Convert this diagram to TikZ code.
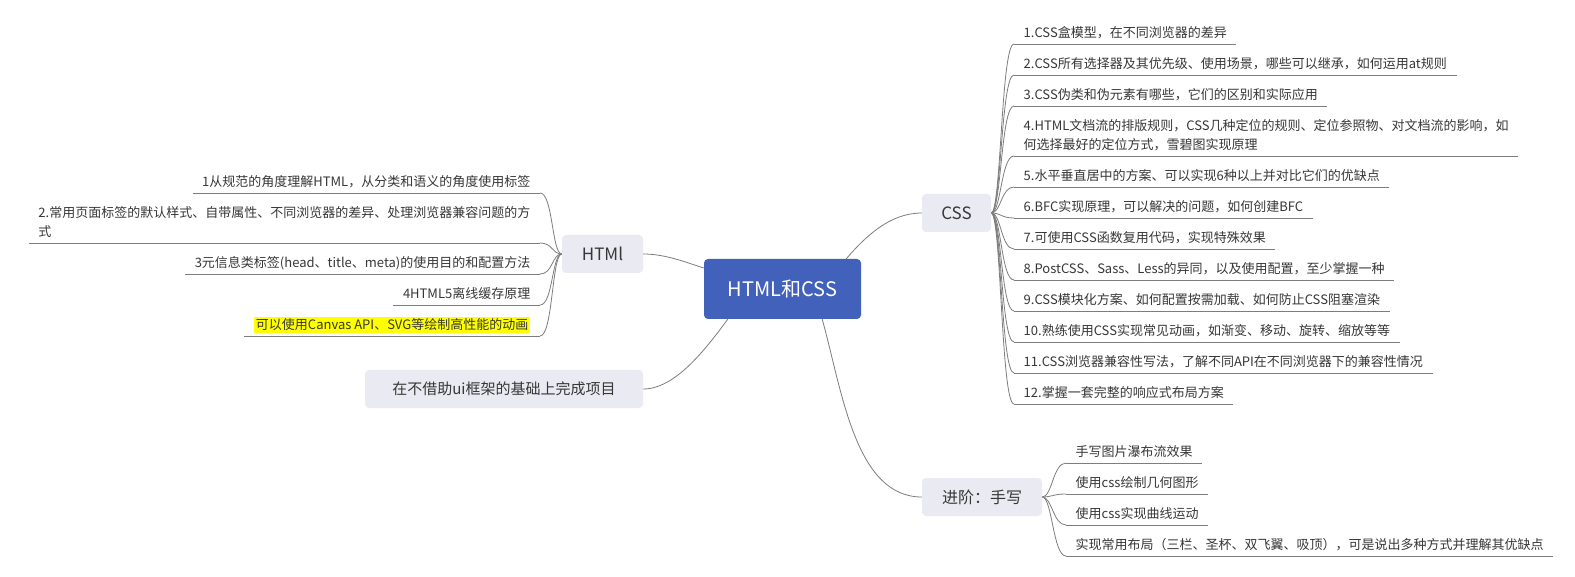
\documentclass[tikz,border=0pt]{standalone}
\usepackage{fontspec}
\setmainfont{Noto Sans CJK SC}
\usetikzlibrary{backgrounds,calc}
\definecolor{rootblue}{RGB}{66,97,186}
\definecolor{subfill}{RGB}{233,234,242}
\definecolor{txt}{RGB}{55,55,55}
\definecolor{linegray}{RGB}{125,125,125}
\definecolor{hl}{RGB}{255,255,0}
\begin{document}
\begin{tikzpicture}[x=1pt,y=-1pt,
 rootbox/.style={fill=rootblue, rounded corners=4pt, minimum width=157pt, minimum height=60pt, text=white, font=\fontsize{20}{24}\selectfont, inner sep=0pt},
 subbox/.style={fill=subfill, rounded corners=4pt, minimum height=38pt, inner sep=0pt, text=txt},
 item/.style={text=txt, font=\fontsize{13}{19.5}\selectfont, inner xsep=9.5pt, inner ysep=0pt, text height=12pt, text depth=6pt, align=left},
 ritem/.style={item, anchor=south west},
 litem/.style={item, anchor=south east},
 conn/.style={draw=linegray, line width=0.8pt},
 uline/.style={draw=linegray, line width=0.8pt},
]
\useasboundingbox (0,0) rectangle (1575,577);

% main nodes
\node[rootbox] (root) at (782.5,289) {HTML和CSS};
\node[subbox, minimum width=69pt, font=\fontsize{17}{20}\selectfont] (css) at (956.5,213) {CSS};
\node[subbox, minimum width=81pt, font=\fontsize{17}{20}\selectfont] (html) at (602.5,254) {HTMl};
\node[subbox, minimum width=120pt, font=\fontsize{16}{19}\selectfont] (jj) at (982,497) {进阶：手写};
\node[subbox, minimum width=278pt, font=\fontsize{15}{18}\selectfont] (zz) at (504,389) {在不借助ui框架的基础上完成项目};

% CSS items
\node[ritem] (c1) at (1014,44) {1.CSS盒模型，在不同浏览器的差异};
\node[ritem] (c2) at (1014,75) {2.CSS所有选择器及其优先级、使用场景，哪些可以继承，如何运用at规则};
\node[ritem] (c3) at (1014,106) {3.CSS伪类和伪元素有哪些，它们的区别和实际应用};
\node[ritem] (c4) at (1014,156) {4.HTML文档流的排版规则，CSS几种定位的规则、定位参照物、对文档流的影响，如\\何选择最好的定位方式，雪碧图实现原理};
\node[ritem] (c5) at (1014,187) {5.水平垂直居中的方案、可以实现6种以上并对比它们的优缺点};
\node[ritem] (c6) at (1014,218) {6.BFC实现原理，可以解决的问题，如何创建BFC};
\node[ritem] (c7) at (1014,249) {7.可使用CSS函数复用代码，实现特殊效果};
\node[ritem] (c8) at (1014,280) {8.PostCSS、Sass、Less的异同，以及使用配置，至少掌握一种};
\node[ritem] (c9) at (1014,311) {9.CSS模块化方案、如何配置按需加载、如何防止CSS阻塞渲染};
\node[ritem] (c10) at (1014,342) {10.熟练使用CSS实现常见动画，如渐变、移动、旋转、缩放等等};
\node[ritem] (c11) at (1014,373) {11.CSS浏览器兼容性写法，了解不同API在不同浏览器下的兼容性情况};
\node[ritem] (c12) at (1014,404) {12.掌握一套完整的响应式布局方案};

% HTMl items
\node[litem] (h1) at (540,193) {1从规范的角度理解HTML，从分类和语义的角度使用标签};
\node[litem] (h2) at (540,243) {2.常用页面标签的默认样式、自带属性、不同浏览器的差异、处理浏览器兼容问题的方\\式};
\node[litem] (h3) at (540,274) {3元信息类标签(head、title、meta)的使用目的和配置方法};
\node[litem] (h4) at (540,305) {4HTML5离线缓存原理};
\node[litem] (h5) at (540,336) {{\fboxsep=2pt\colorbox{hl}{可以使用Canvas API、SVG等绘制高性能的动画}}};

% advanced items
\node[ritem] (j1) at (1066,463) {手写图片瀑布流效果};
\node[ritem] (j2) at (1066,494) {使用css绘制几何图形};
\node[ritem] (j3) at (1066,525) {使用css实现曲线运动};
\node[ritem] (j4) at (1066,556) {实现常用布局（三栏、圣杯、双飞翼、吸顶），可是说出多种方式并理解其优缺点};

\begin{scope}[on background layer]
\fill[white] (0,0) rectangle (1575,577);
% underlines
\foreach \n in {c1,c2,c3,c4,c5,c6,c7,c8,c9,c10,c11,c12,h1,h2,h3,h4,h5,j1,j2,j3,j4}
  \draw[uline] (\n.south west) -- (\n.south east);
% CSS branches
\foreach \n in {c1,c2,c3,c4,c5,c6,c7,c8,c9,c10,c11,c12}
  \draw[conn] (css.east) .. controls +(10,0) and +(-13,0) .. (\n.south west);
% HTMl branches
\foreach \n in {h1,h2,h3,h4,h5}
  \draw[conn] (html.west) .. controls +(-10,0) and +(13,0) .. (\n.south east);
% advanced branches
\foreach \n in {j1,j2,j3,j4}
  \draw[conn] (jj.east) .. controls +(10,0) and +(-13,0) .. (\n.south west);
% root connections
\coordinate (rcss) at ($(root.north east)+(-15,0)$);
\coordinate (rhtml) at ($(root.west)+(0,-21)$);
\coordinate (rzz) at ($(root.south west)+(24,0)$);
\coordinate (rjj) at ($(root.south east)+(-39,0)$);
\draw[conn] (rcss) .. controls (866,236) and (890,213) .. (css.west);
\draw[conn] (html.east) .. controls (665,254) and (685,262) .. (rhtml);
\draw[conn] (zz.east) .. controls (675,389) and (705,350) .. (rzz);
\draw[conn] (rjj) .. controls (842,390) and (855,497) .. (jj.west);
\end{scope}
\end{tikzpicture}
\end{document}
